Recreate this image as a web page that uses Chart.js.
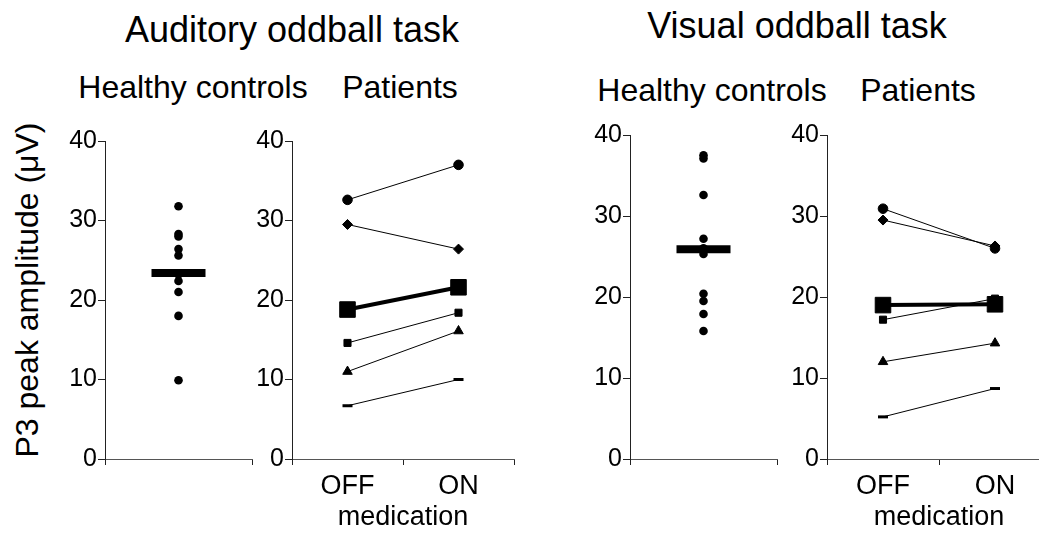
<!DOCTYPE html>
<html>
<head>
<meta charset="utf-8">
<script src="https://cdn.jsdelivr.net/npm/chart.js@4.4.1/dist/chart.umd.min.js"></script>
<style>
  html, body { margin:0; padding:0; background:#fff; overflow:hidden; width:1039px; height:535px; }
  body { position:relative; font-family:"Liberation Sans", Arial, sans-serif; color:#000; }
  canvas { position:absolute; }
  .t { position:absolute; white-space:nowrap; transform:translateX(-50%); line-height:1; }
  #ylab { position:absolute; white-space:nowrap; font-size:32px; line-height:1;
          transform:translate(-50%,-50%) rotate(-90deg); left:27px; top:290px; }
</style>
</head>
<body>
<div class="t" style="left:292px; top:12px; font-size:36px;">Auditory oddball task</div>
<div class="t" style="left:797px; top:8px; font-size:36px;">Visual oddball task</div>
<div class="t" style="left:193px; top:71px; font-size:32px;">Healthy controls</div>
<div class="t" style="left:400px; top:71px; font-size:32px;">Patients</div>
<div class="t" style="left:712px; top:74px; font-size:32px;">Healthy controls</div>
<div class="t" style="left:918px; top:74px; font-size:32px;">Patients</div>
<div id="ylab">P3 peak amplitude (μV)</div>

<canvas id="c1"></canvas>
<canvas id="c2"></canvas>
<canvas id="c3"></canvas>
<canvas id="c4"></canvas>

<script>
// ---- data ----
const hcCategory = ['Healthy controls'];
const medCategories = ['OFF', 'ON'];
const yTicks = [0, 10, 20, 30, 40];

// Auditory oddball task
const audHc = [31.8, 28.3, 28.0, 26.4, 25.6, 23.2, 22.4, 21.0, 18.0, 9.9];
const audHcMean = [23.4];
const audCircle   = [32.6, 37.0];
const audDiamond  = [29.5, 26.4];
const audSquare   = [14.6, 18.4];
const audTriangle = [11.0, 16.1];
const audDash     = [6.7, 10.0];
const audMean     = [18.8, 21.6];

// Visual oddball task
const visHc = [37.5, 37.1, 32.6, 27.2, 26.0, 25.3, 20.4, 19.5, 17.9, 15.8];
const visHcMean = [25.9];
const visCircle   = [30.9, 26.0];
const visDiamond  = [29.5, 26.3];
const visSquare   = [17.2, 19.8];
const visTriangle = [12.0, 14.3];
const visDash     = [5.2, 8.7];
const visMean     = [19.0, 19.1];

// ---- drawing ----
const FONT = '"Liberation Sans", Arial, sans-serif';
const AX = '#222';

function setupCanvas(id, left, top, w, h) {
  const c = document.getElementById(id);
  c.width = w; c.height = h;
  c.style.left = left + 'px'; c.style.top = top + 'px';
  c.style.width = w + 'px'; c.style.height = h + 'px';
  return c;
}

function yScale() {
  return {
    min: 0, max: 40,
    afterBuildTicks: s => { s.ticks = yTicks.map(v => ({ value: v })); },
    afterFit: s => { s.width = 55; },
    ticks: { color: '#000', padding: 1, font: { family: FONT, size: 25 } },
    grid: { drawOnChartArea: false, tickLength: 7, color: AX, lineWidth: 1 },
    border: { display: true, color: AX, width: 1 }
  };
}

function hcChart(id, geom, values, meanVal) {
  const c = setupCanvas(id, geom.left, geom.top, geom.w, geom.h);
  new Chart(c, {
    type: 'line',
    data: {
      labels: hcCategory,
      datasets: [
        { data: meanVal.map(v => ({ x: hcCategory[0], y: v })), showLine: false,
          pointStyle: 'line', pointRadius: 27, pointBorderWidth: 8,
          borderColor: '#000', backgroundColor: '#000' },
        { data: values.map(v => ({ x: hcCategory[0], y: v })), showLine: false,
          pointStyle: 'circle', pointRadius: 4.3, pointBorderWidth: 0,
          borderColor: '#000', backgroundColor: '#000' }
      ]
    },
    options: {
      responsive: false, animation: false, devicePixelRatio: 1,
      events: [],
      layout: { autoPadding: false, padding: { top: geom.padTop, right: 8, left: 0, bottom: 0 } },
      plugins: { legend: { display: false }, tooltip: { enabled: false } },
      scales: {
        x: {
          type: 'category', offset: true,
          afterFit: s => { s.height = 22; },
          ticks: { callback: () => '', font: { size: 1 } },
          grid: { offset: true, drawOnChartArea: false, tickLength: 6, color: AX },
          border: { display: true, color: '#555', width: 1 }
        },
        y: yScale()
      }
    }
  });
}

function patChart(id, geom, series, meanSeries) {
  const c = setupCanvas(id, geom.left, geom.top, geom.w, geom.h);
  const base = { borderColor: '#000', backgroundColor: '#000', borderWidth: 1,
                 pointBorderWidth: 1, tension: 0 };
  new Chart(c, {
    type: 'line',
    data: {
      labels: medCategories,
      datasets: [
        Object.assign({}, base, { data: meanSeries, borderWidth: 4, pointStyle: 'rect', pointRadius: 11 }),
        Object.assign({}, base, { data: series.circle, pointStyle: 'circle', pointRadius: 4.8 }),
        Object.assign({}, base, { data: series.diamond, pointStyle: 'rectRot', pointRadius: 5 }),
        Object.assign({}, base, { data: series.square, pointStyle: 'rect', pointRadius: 5 }),
        Object.assign({}, base, { data: series.triangle, pointStyle: 'triangle', pointRadius: 5.5 }),
        Object.assign({}, base, { data: series.dash, pointStyle: 'line', pointRadius: 5, pointBorderWidth: 3 })
      ]
    },
    options: {
      responsive: false, animation: false, devicePixelRatio: 1,
      events: [],
      layout: { autoPadding: false, padding: { top: geom.padTop, right: geom.padRight, left: 0, bottom: 0 } },
      plugins: { legend: { display: false }, tooltip: { enabled: false } },
      scales: {
        x: {
          type: 'category', offset: true,
          afterFit: s => { s.height = 75; },
          ticks: { color: '#000', padding: 5, font: { family: FONT, size: 27 } },
          grid: { offset: true, drawOnChartArea: false, tickLength: 6, color: AX },
          border: { display: true, color: '#555', width: 1 },
          title: { display: true, text: 'medication', color: '#000',
                   font: { family: FONT, size: 27 }, padding: { top: 0, bottom: 0 } }
        },
        y: yScale()
      }
    }
  });
}

// chart areas: P1 x105-252 y141-459 ; P2 x292-514 ; P3 x630-777 y135-459 ; P4 x827-1051
hcChart('c1', { left: 50, top: 121, w: 55 + 147 + 8, h: 20 + 318 + 22, padTop: 20 }, audHc, audHcMean);
patChart('c2', { left: 237, top: 121, w: 55 + 222 + 8, h: 20 + 318 + 75, padTop: 20, padRight: 8 },
  { circle: audCircle, diamond: audDiamond, square: audSquare, triangle: audTriangle, dash: audDash }, audMean);
hcChart('c3', { left: 575, top: 115, w: 55 + 147 + 8, h: 20 + 324 + 22, padTop: 20 }, visHc, visHcMean);
patChart('c4', { left: 772, top: 115, w: 55 + 224 + 5, h: 20 + 324 + 75, padTop: 20, padRight: 5 },
  { circle: visCircle, diamond: visDiamond, square: visSquare, triangle: visTriangle, dash: visDash }, visMean);
</script>
</body>
</html>
